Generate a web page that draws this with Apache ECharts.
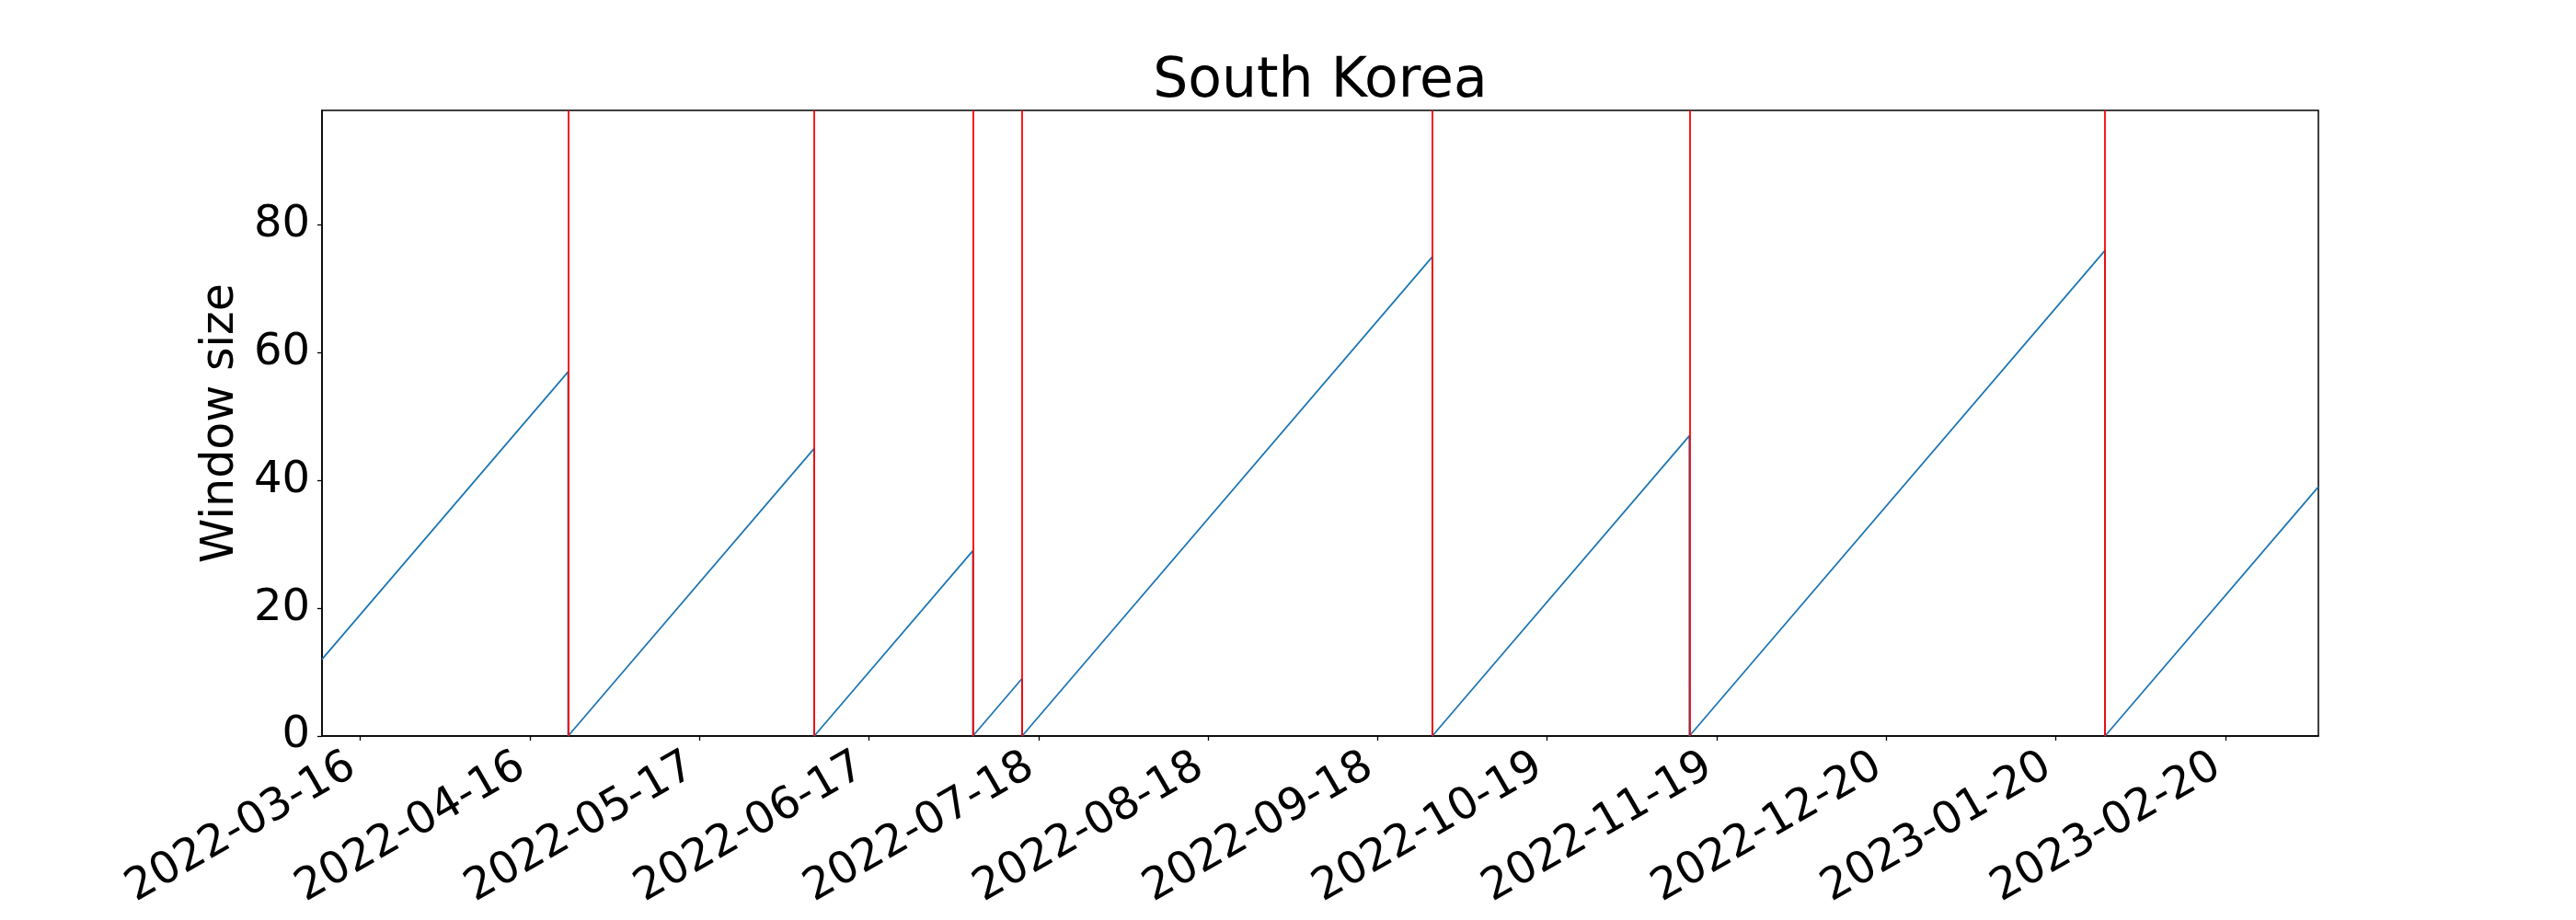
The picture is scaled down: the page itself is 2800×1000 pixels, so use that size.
<!DOCTYPE html>
<html>

<head>
    <meta charset="utf-8" />
    <style type="text/css">
        html, body {
            margin: 0;
            padding: 0;
            background: #fff;
        }

        #main {
            width: 2800px;
            height: 1000px;
        }
    </style>
    <script src="https://cdn.jsdelivr.net/npm/echarts@6/dist/echarts.min.js"></script>
</head>

<body>
    <div id="main"></div>
    <script type="text/javascript">
        // 窗口大小数据（每次重置后按天增长）
        var startDate = "2022-03-09";
        var startValue = 12;
        var resetDates = ["2022-04-23", "2022-06-07", "2022-07-06", "2022-07-15", "2022-09-28", "2022-11-14", "2023-01-29"];
        var peakValues = [57, 45, 29, 9, 75, 47, 76];
        var endDate = "2023-03-09";
        var endValue = 39;

        // 刻度
        var xTickDates = ["2022-03-16", "2022-04-16", "2022-05-17", "2022-06-17", "2022-07-18", "2022-08-18",
            "2022-09-18", "2022-10-19", "2022-11-19", "2022-12-20", "2023-01-20", "2023-02-20"];
        var yTicks = [0, 20, 40, 60, 80];
        var yMax = 97.9;

        function ts(s) {
            return new Date(s + "T00:00:00").getTime();
        }
        function pad(n) {
            return String(n).padStart(2, "0");
        }

        // 折线顶点：峰值后直接落到 0
        var lineData = [[ts(startDate), startValue]];
        resetDates.forEach(function (d, i) {
            lineData.push([ts(d), peakValues[i]]);
            lineData.push([ts(d), 0]);
        });
        lineData.push([ts(endDate), endValue]);

        var xTicks = xTickDates.map(ts);
        var font = "DejaVu Sans";

        var myChart = echarts.init(document.getElementById("main"));
        var option = {
            animation: false,
            backgroundColor: "#fff",
            title: {
                text: "South Korea",
                // 标题居中在绘图区上方
                left: 1435,
                textAlign: "center",
                top: 59,
                padding: 0,
                textStyle: { fontFamily: font, fontSize: 60, fontWeight: "normal", color: "#000" },
            },
            grid: {
                left: 350,
                right: 280,
                top: 120,
                bottom: 200,
                show: true,
                borderColor: "#000",
                borderWidth: 1.5,
                containLabel: false,
                outerBoundsMode: "none",
            },
            xAxis: {
                // 用数值轴存时间戳，刻度每 31 天一个
                type: "value",
                min: ts(startDate),
                max: ts(endDate),
                axisLine: { show: true, lineStyle: { color: "#000", width: 1.5 } },
                axisTick: {
                    show: true,
                    length: 5,
                    customValues: xTicks,
                    lineStyle: { color: "#000", width: 1.3 },
                },
                axisLabel: {
                    customValues: xTicks,
                    rotate: 30,
                    margin: 25,
                    padding: [0, 10, 0, 0],
                    fontFamily: font,
                    fontSize: 48,
                    color: "#000",
                    formatter: function (v) {
                        var d = new Date(v);
                        return d.getFullYear() + "-" + pad(d.getMonth() + 1) + "-" + pad(d.getDate());
                    },
                },
                splitLine: { show: false },
            },
            yAxis: {
                type: "value",
                min: 0,
                max: yMax,
                name: "Window size",
                nameLocation: "middle",
                nameRotate: 90,
                nameGap: 76,
                nameTextStyle: { fontFamily: font, fontSize: 49, color: "#000" },
                axisLine: { show: true, lineStyle: { color: "#000", width: 1.5 } },
                axisTick: {
                    show: true,
                    length: 5,
                    customValues: yTicks,
                    lineStyle: { color: "#000", width: 1.3 },
                },
                axisLabel: {
                    customValues: yTicks,
                    margin: 13,
                    fontFamily: font,
                    fontSize: 48,
                    color: "#000",
                },
                splitLine: { show: false },
            },
            series: [
                {
                    // 红色竖线：重置日期
                    name: "reset",
                    type: "line",
                    data: [],
                    z: 1,
                    silent: true,
                    markLine: {
                        silent: true,
                        symbol: ["none", "none"],
                        label: { show: false },
                        lineStyle: { color: "#ff0000", width: 1.8, type: "solid" },
                        data: resetDates.map(function (d) {
                            return { xAxis: ts(d) };
                        }),
                    },
                },
                {
                    name: "Window size",
                    type: "line",
                    data: lineData,
                    z: 2,
                    showSymbol: false,
                    symbol: "none",
                    lineStyle: { color: "#1f77b4", width: 1.8 },
                    itemStyle: { color: "#1f77b4" },
                },
            ],
        };
        myChart.setOption(option);
    </script>
</body>

</html>
